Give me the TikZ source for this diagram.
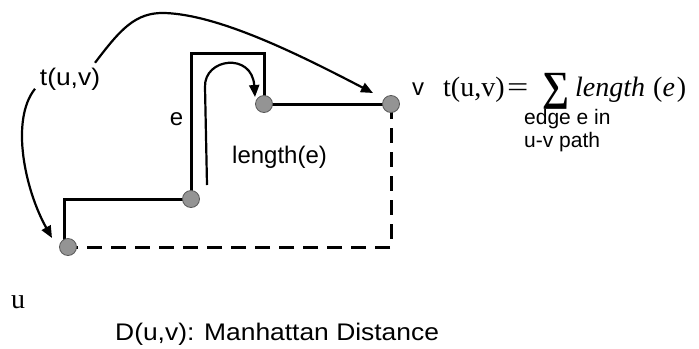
\documentclass[tikz,border=0pt]{standalone}
\usepackage{fontspec}
\usepackage{graphicx}
\setmainfont{Liberation Sans}
\newfontfamily\widesans[FakeStretch=1.1]{Liberation Sans}
\newfontfamily\tms{Liberation Serif}
\usetikzlibrary{arrows.meta,backgrounds}
\begin{document}
\begin{tikzpicture}[x=1bp,y=-1bp,
  vtx/.style={circle,fill=black!42,draw=black!65,line width=0.8bp,minimum size=17bp,inner sep=0pt},
  pathline/.style={line width=3bp},
  dashline/.style={line width=3bp,dash pattern=on 15bp off 9bp},
  curvearrow/.style={line width=2.2bp,-{Triangle[length=12bp,width=10bp]}},
  lbl/.style={font=\fontsize{24bp}{28bp}\selectfont,inner sep=0pt},
  wlbl/.style={font=\widesans\fontsize{24bp}{28bp}\selectfont,inner sep=0pt},
  small/.style={font=\fontsize{21bp}{23bp}\selectfont,inner sep=0pt,align=left},
  serif/.style={font=\tms\fontsize{28bp}{28bp}\selectfont,inner sep=0pt},
]
\useasboundingbox (0,0) rectangle (699,348);
\node[vtx] (u) at (68,247) {};
\node[vtx] (a) at (191,199) {};
\node[vtx] (b) at (264,104) {};
\node[vtx] (v) at (391,104) {};
\begin{pgfonlayer}{background}
\draw[pathline] ([xshift=-4bp]u.center) |- (a.center);
\draw[pathline] (a.center) |- ([yshift=51bp]b.center) -- (b.center);
\draw[pathline] (b.center) -- (v.center);
\draw[dashline] (v.center) |- (u.center);
\end{pgfonlayer}
% labels
\node[wlbl,anchor=base] (tl) at (70,85) {t(u,v)};
\node[lbl,anchor=base] (el) at (176.5,125) {e};
\node[lbl,anchor=base west] (ll) at (232,163) {length(e)};
\node[lbl,anchor=base] (vl) at (418,95) {v};
\node[serif,anchor=base west] (fm) at (443,96) {\makebox[64bp][l]{t(u,v)}\makebox[35bp][l]{\scalebox{1.35}[1]{=}}\makebox[33bp][l]{\raisebox{-13bp}{\resizebox{27bp}{36bp}{\raisebox{\depth}{\bfseries ∑}}}}\makebox[78bp][l]{\textit{length}}(\textit{e}\hspace{2bp})};
\node[small,anchor=base west] (sub) at (524,147) {edge e in\\u-v path};
\node[serif,anchor=base] (ul) at (18,308) {u};
\node[wlbl,anchor=base west] (dl) at (115,340) {D(u,v): Manhattan Distance};
% arrows
\draw[curvearrow] ([shift={(25,-16)}]tl.center) .. controls (120,30) and (135,12) .. (165,13)
  .. controls (220,15) and (300,55) .. ([shift={(-18,-11)}]v.center);
\draw[curvearrow] ([shift={(-35,10)}]tl.center) .. controls (10,120) and (25,190) .. ([shift={(-16,-9)}]u.center);
\draw[curvearrow] ([shift={(16,-14)}]a.center) -- (205,87) .. controls (204,58) and (252,52) .. ([shift={(-9,-7)}]b.center);
\end{tikzpicture}
\end{document}
